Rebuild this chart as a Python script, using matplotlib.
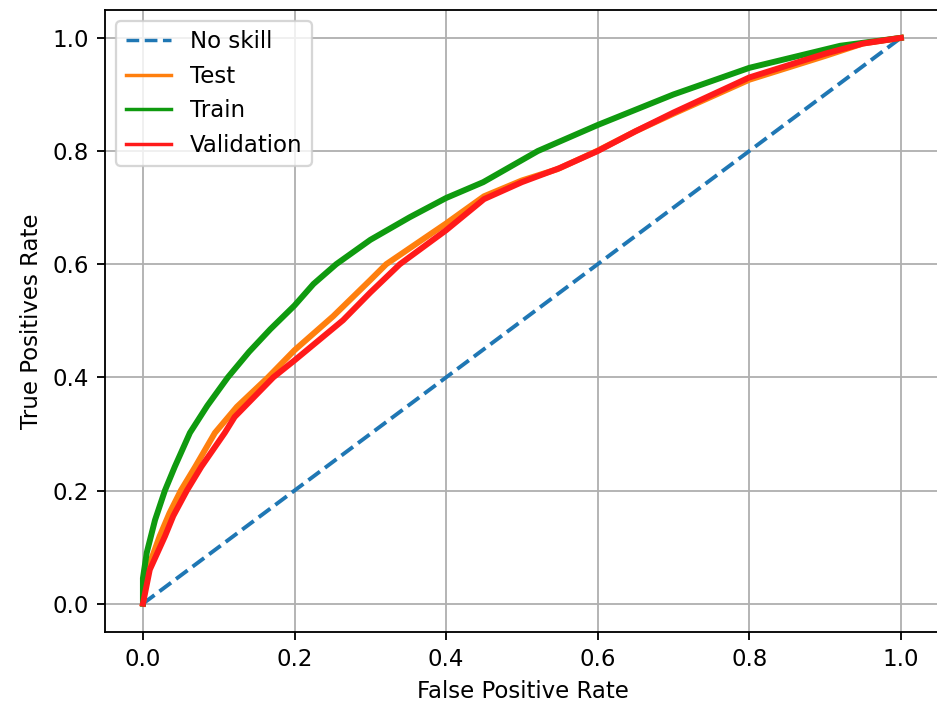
import matplotlib
matplotlib.use("Agg")
import matplotlib.pyplot as plt

# ROC curve points
skill_fpr = [0.0, 1.0]
skill_tpr = [0.0, 1.0]

test_fpr = [0.0, 0.006, 0.022, 0.035, 0.05, 0.069, 0.095, 0.124, 0.165, 0.2,
            0.251, 0.3, 0.321, 0.4, 0.45, 0.5, 0.547, 0.599, 0.65, 0.7, 0.8,
            0.9, 0.95, 1.0]
test_tpr = [0.0, 0.06, 0.119, 0.16, 0.2, 0.242, 0.302, 0.348, 0.40, 0.448,
            0.508, 0.572, 0.6, 0.672, 0.72, 0.748, 0.768, 0.80, 0.835, 0.866,
            0.926, 0.968, 0.99, 1.0]

train_fpr = [0.0, 0.0, 0.005, 0.016, 0.029, 0.042, 0.062, 0.085, 0.112, 0.14,
             0.168, 0.2, 0.225, 0.255, 0.3, 0.352, 0.4, 0.449, 0.521, 0.6, 0.7,
             0.8, 0.92, 1.0]
train_tpr = [0.0, 0.045, 0.09, 0.148, 0.2, 0.242, 0.302, 0.35, 0.40, 0.445,
             0.485, 0.527, 0.565, 0.60, 0.643, 0.683, 0.717, 0.745, 0.80, 0.846,
             0.90, 0.947, 0.986, 1.0]

val_fpr = [0.0, 0.009, 0.029, 0.04, 0.058, 0.077, 0.108, 0.121, 0.172, 0.2,
           0.264, 0.3, 0.339, 0.4, 0.45, 0.5, 0.55, 0.6, 0.65, 0.7, 0.8, 0.9,
           0.95, 1.0]
val_tpr = [0.0, 0.06, 0.119, 0.155, 0.2, 0.242, 0.302, 0.33, 0.40, 0.43,
           0.501, 0.55, 0.6, 0.66, 0.715, 0.745, 0.77, 0.80, 0.835, 0.868, 0.93,
           0.972, 0.99, 1.0]

fig = plt.figure(figsize=(937 / 165, 704 / 165), dpi=165)
# the reference is cropped just before the right spine
ax = fig.add_axes([0.1121, 0.1023, 0.8922, 0.8841])

ax.plot(skill_fpr, skill_tpr, linestyle='--', color='#1f77b4', lw=1.7, label='No skill')
ax.plot(test_fpr, test_tpr, color='#ff7f0e', lw=2.6, label='Test')
ax.plot(train_fpr, train_tpr, color='#0f9a0f', lw=2.6, label='Train')
ax.plot(val_fpr, val_tpr, color='#ff1a1a', lw=2.6, label='Validation')

ax.set_xlim(-0.05, 1.053)
ax.set_ylim(-0.05, 1.05)
ax.set_xlabel('False Positive Rate')
ax.set_ylabel('True Positives Rate')
ax.grid(True)

leg = ax.legend(loc='upper left')
for line in leg.get_lines():
    line.set_linewidth(1.5)

fig.savefig('out.png', dpi=165)
